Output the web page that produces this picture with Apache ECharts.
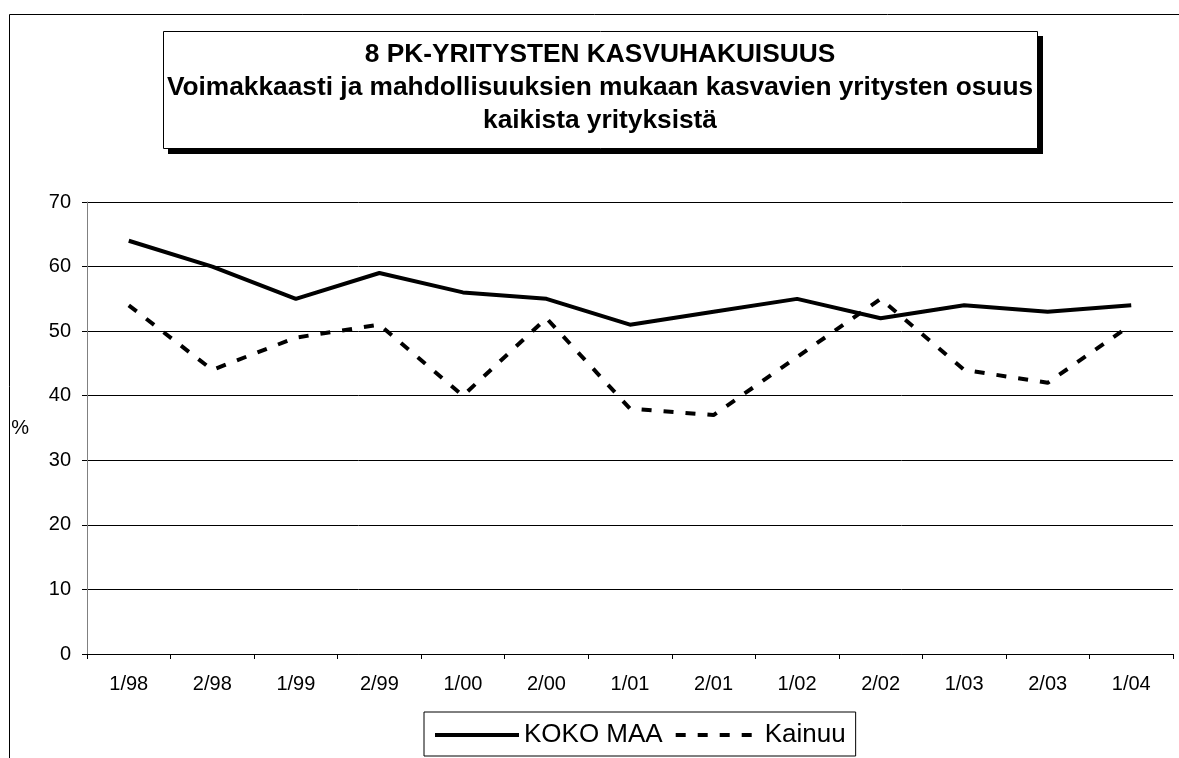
<!DOCTYPE html>
<html>
<head>
<meta charset="utf-8">
<script src="https://cdn.jsdelivr.net/npm/echarts@6/dist/echarts.min.js"></script>
<style>
  html, body { margin: 0; padding: 0; background: #fff; }
  #chart { width: 1179px; height: 758px; }
</style>
</head>
<body>
<div id="chart"></div>
<script>
// data
const periods = ['1/98', '2/98', '1/99', '2/99', '1/00', '2/00', '1/01', '2/01', '1/02', '2/02', '1/03', '2/03', '1/04']
const kokoMaa = [64, 60, 55, 59, 56, 55, 51, 53, 55, 52, 54, 53, 54]
const kainuu = [54, 44, 49, 51, 40, 52, 38, 37, 46, 55, 44, 42, 51]
const yMin = 0
const yMax = 70
const yStep = 10

const titleLines = [
  '8 PK-YRITYSTEN KASVUHAKUISUUS',
  'Voimakkaasti ja mahdollisuuksien mukaan kasvavien yritysten osuus',
  'kaikista yrityksistä'
]

const font = 'Liberation Sans, Arial, sans-serif'

const chart = echarts.init(document.getElementById('chart'))

chart.setOption({
  animation: false,
  backgroundColor: '#fff',
  textStyle: { fontFamily: font, color: '#000' },
  graphic: [
    // outer chart frame (runs off right and bottom)
    {
      type: 'rect', z: 0, silent: true,
      shape: { x: 9.5, y: 14.5, width: 1200, height: 800 },
      style: { fill: 'none', stroke: '#000', lineWidth: 1 }
    },
    // title box shadow
    {
      type: 'rect', z: 1, silent: true,
      shape: { x: 168, y: 36, width: 875, height: 118 },
      style: { fill: '#000' }
    },
    // title box
    {
      type: 'rect', z: 2, silent: true,
      shape: { x: 163.5, y: 31.5, width: 874, height: 117 },
      style: { fill: '#fff', stroke: '#000', lineWidth: 1 }
    }
  ],
  title: {
    text: titleLines.join('\n'),
    left: 600,
    top: 38,
    textAlign: 'center',
    padding: 0,
    z: 10,
    textStyle: {
      fontFamily: font,
      fontSize: 26.3,
      fontWeight: 'bold',
      lineHeight: 33,
      color: '#000'
    }
  },
  legend: {
    data: ['KOKO MAA', 'Kainuu'],
    left: 424,
    top: 712,
    itemWidth: 84,
    itemHeight: 14,
    itemGap: 11,
    padding: [10, 10, 8, 9],
    borderColor: '#000',
    borderWidth: 1,
    borderRadius: 0,
    itemStyle: { opacity: 0 },
    lineStyle: { width: 4 },
    textStyle: { fontFamily: font, fontSize: 26, color: '#000' }
  },
  grid: {
    left: 87,
    right: 6,
    top: 202,
    bottom: 104,
    containLabel: false
  },
  xAxis: {
    type: 'category',
    data: periods,
    boundaryGap: true,
    axisLine: { lineStyle: { color: '#000', width: 1 } },
    axisTick: { show: true, interval: 0, length: 5, lineStyle: { color: '#000' } },
    axisLabel: { interval: 0, margin: 20, fontSize: 20, color: '#000', fontFamily: font },
    splitLine: { show: false }
  },
  yAxis: {
    type: 'value',
    min: yMin,
    max: yMax,
    interval: yStep,
    name: '%',
    nameLocation: 'middle',
    nameRotate: 0,
    nameGap: 58,
    nameTextStyle: { fontSize: 20, color: '#000', fontFamily: font },
    axisLine: { show: true, lineStyle: { color: '#808080', width: 1 } },
    axisTick: { show: true, length: 5, lineStyle: { color: '#000' } },
    axisLabel: { margin: 16, fontSize: 20, color: '#000', fontFamily: font },
    splitLine: { show: true, lineStyle: { color: '#000', width: 1 } }
  },
  series: [
    {
      name: 'KOKO MAA',
      type: 'line',
      data: kokoMaa,
      symbol: 'none',
      lineStyle: { color: '#000', width: 4 },
      itemStyle: { color: '#000' },
      z: 5
    },
    {
      name: 'Kainuu',
      type: 'line',
      data: kainuu,
      symbol: 'none',
      lineStyle: { color: '#000', width: 4, type: [10, 12] },
      itemStyle: { color: '#000' },
      z: 4
    }
  ]
})
</script>
</body>
</html>
